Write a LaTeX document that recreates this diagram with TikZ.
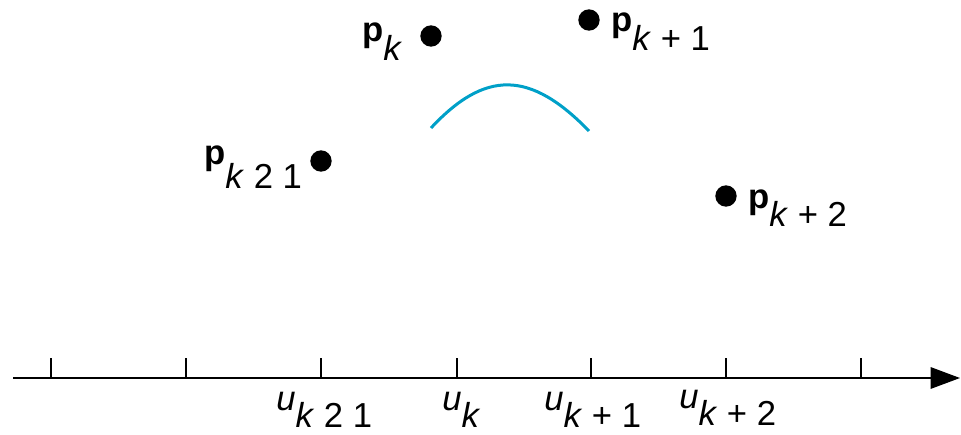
\documentclass[tikz,border=0pt]{standalone}
\usepackage{fontspec}
\setmainfont{Liberation Sans}
\usetikzlibrary{arrows.meta,positioning}
\definecolor{curveblue}{RGB}{0,160,200}
\newcommand{\splabel}[3][13pt]{#2\raisebox{-#1}{#3}}

\begin{document}
\begin{tikzpicture}[x=0.75pt,y=-0.75pt,
    dot/.style={circle,fill=black,inner sep=0pt,minimum size=16pt},
    lbl/.style={anchor=base west,inner sep=0pt,font=\fontsize{26}{30}\selectfont},
    tickmark/.style={line width=1.6pt}]
    \useasboundingbox (0,0) rectangle (961,435);

    % parameter axis
    \coordinate (axstart) at (13,378);
    \coordinate (axend) at (960,378);
    \draw[line width=1.6pt,-{Triangle[length=22pt,width=16pt]}] (axstart) -- (axend);
    \foreach \x in {51,186,321,457,591,726,861}
        \draw[tickmark] (\x,378) -- (\x,358);

    % control points
    \node[dot] (pkm) at (321,161) {};
    \node[dot] (pk) at (431,36) {};
    \node[dot] (pkp) at (589,20) {};
    \node[dot] (pkpp) at (726,196) {};

    \node[lbl] (lpkm) at (204,164) {\splabel[18pt]{\textbf{p}}{\textit{k} 2 1}};
    \node[lbl] (lpk) at (362,42) {\splabel[14pt]{\textbf{p}}{\textit{k}}};
    \node[lbl] (lpkp) at (611,32) {\splabel[14pt]{\textbf{p}}{\textit{k} + 1}};
    \node[lbl] (lpkpp) at (748,208) {\splabel[14pt]{\textbf{p}}{\textit{k} + 2}};

    % curve segment between u_k and u_k+1
    \coordinate (cstart) at (431,128);
    \coordinate (cend) at (589,131);
    \draw[curveblue, line width=2.25pt] (cstart) .. controls (485,70) and (530,70) .. (cend);

    % knot labels
    \node[lbl] (ukm) at (276,410) {\splabel{\textit{u}}{\textit{k} 2 1}};
    \node[lbl] (uk) at (442,410) {\splabel{\textit{u}}{\textit{k}}};
    \node[lbl] (ukp) at (544,410) {\splabel{\textit{u}}{\textit{k} + 1}};
    \node[lbl] (ukpp) at (679,408) {\splabel{\textit{u}}{\textit{k} + 2}};
\end{tikzpicture}
\end{document}
